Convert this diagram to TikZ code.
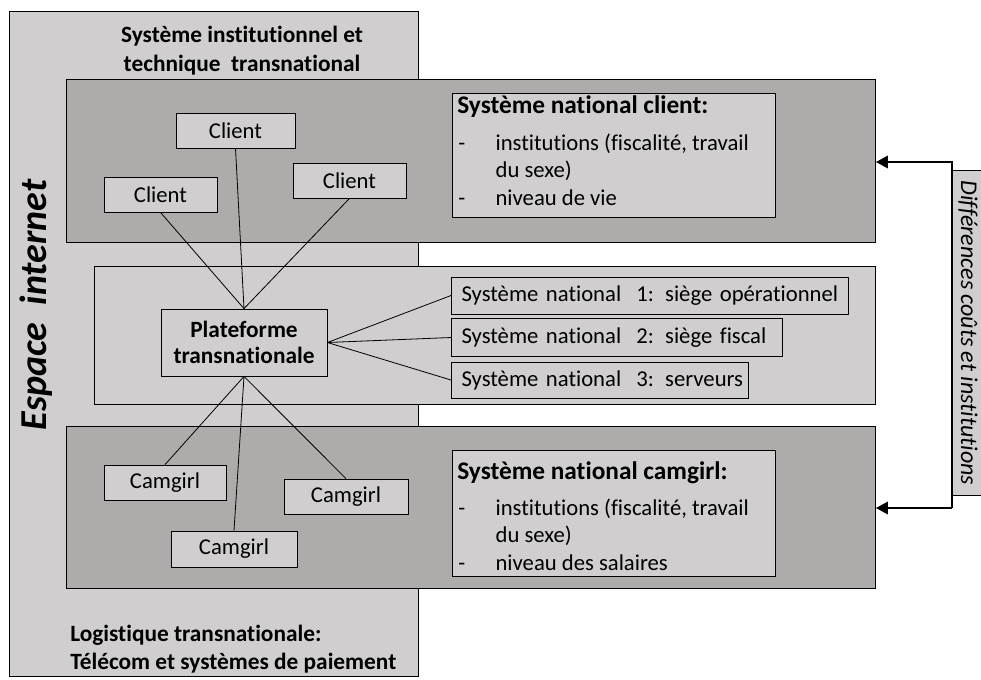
\documentclass[tikz,border=0pt]{standalone}
\usepackage{fontspec}
\setmainfont{Carlito}[Ligatures=NoCommon]
\usetikzlibrary{arrows.meta}
\definecolor{lightg}{HTML}{D0CECE}
\definecolor{darkg}{HTML}{AEABAB}
\newcommand{\dashitem}[1]{\makebox[28pt][l]{-}#1}
\begin{document}
\begin{tikzpicture}[x=0.75pt,y=-0.75pt,
  box/.style={draw=black, line width=0.6pt},
  smallbox/.style={draw=black, line width=0.6pt, fill=lightg, inner sep=0pt},
  lbl/.style={font=\fontsize{17}{20.6}\selectfont},
  link/.style={draw=black, line width=0.6pt}]
\useasboundingbox (0,0) rectangle (981,679);
% outer region
\node[box, fill=lightg, minimum width=409*0.75pt, minimum height=665*0.75pt, anchor=north west, inner sep=0pt] (outer) at (9,11) {};
% top client system
\node[box, fill=darkg, minimum width=809*0.75pt, minimum height=163*0.75pt, anchor=north west, inner sep=0pt] (top) at (66,79) {};
% middle
\node[box, fill=lightg, minimum width=781*0.75pt, minimum height=138*0.75pt, anchor=north west, inner sep=0pt] (mid) at (94,266) {};
% bottom camgirl system
\node[box, fill=darkg, minimum width=809*0.75pt, minimum height=162*0.75pt, anchor=north west, inner sep=0pt] (bot) at (66,426) {};
% titles
\node[font=\bfseries\fontsize{17.5}{21.5}\selectfont, align=center, anchor=base, inner sep=0pt] (ttitle) at (242,71) {Système institutionnel et\\technique~ transnational};
\node[font=\bfseries\fontsize{17.5}{21}\selectfont, align=left, anchor=base west, inner sep=0pt] (btitle) at (70,669) {Logistique transnationale:\\Télécom et systèmes de paiement};
\node[font=\bfseries\itshape\fontsize{28.5}{30}\selectfont, rotate=90] (esp) at (36,305) {Espace~ internet};
% national client box
\node[smallbox, minimum width=323*0.75pt, minimum height=124*0.75pt, anchor=north west] (nclient) at (452,93) {};
\node[font=\bfseries\fontsize{19}{22}\selectfont, anchor=base west, inner sep=0pt] (ncT) at (457,113) {Système national client:};
\node[lbl, anchor=base west, align=left, inner sep=0pt] (ncL) at (458,205) {%
\dashitem{institutions (fiscalité, travail}\\\hspace*{28pt}du sexe)\\\dashitem{niveau de vie}};
% national camgirl box
\node[smallbox, minimum width=323*0.75pt, minimum height=126*0.75pt, anchor=north west] (ncam) at (452,450) {};
\node[font=\bfseries\fontsize{19}{22}\selectfont, anchor=base west, inner sep=0pt] (nmT) at (457,479) {Système national camgirl:};
\node[lbl, anchor=base west, align=left, inner sep=0pt] (nmL) at (458,570) {%
\dashitem{institutions (fiscalité, travail}\\\hspace*{28pt}du sexe)\\\dashitem{niveau des salaires}};
% clients
\node[smallbox, lbl, minimum width=119*0.75pt, minimum height=35*0.75pt] (c1) at (235.5,130.5) {Client};
\node[smallbox, lbl, minimum width=113*0.75pt, minimum height=35*0.75pt] (c2) at (160.5,194.5) {Client};
\node[smallbox, lbl, minimum width=113*0.75pt, minimum height=35*0.75pt] (c3) at (349.5,180.5) {Client};
% platform
\node[smallbox, minimum width=166*0.75pt, minimum height=67*0.75pt, font=\bfseries\fontsize{17.5}{20}\selectfont, align=center] (plat) at (244,342.5) {Plateforme\\transnationale};
% national systems
\node[smallbox, lbl, minimum width=397*0.75pt, minimum height=37*0.75pt, anchor=west, text width=390*0.75pt, align=left] (s1) at (451,295.5) {\hspace*{5pt}Système national~ 1: siège opérationnel};
\node[smallbox, lbl, minimum width=331*0.75pt, minimum height=38*0.75pt, anchor=west, text width=324*0.75pt, align=left] (s2) at (451,337.5) {\hspace*{5pt}Système national~ 2: siège fiscal};
\node[smallbox, lbl, minimum width=297*0.75pt, minimum height=36*0.75pt, anchor=west, text width=290*0.75pt, align=left] (s3) at (451,380) {\hspace*{5pt}Système national~ 3: serveurs};
% camgirls
\node[smallbox, lbl, minimum width=122*0.75pt, minimum height=35*0.75pt] (g1) at (165,482.5) {Camgirl};
\node[smallbox, lbl, minimum width=124*0.75pt, minimum height=35*0.75pt] (g2) at (346,496.5) {Camgirl};
\node[smallbox, lbl, minimum width=126*0.75pt, minimum height=36*0.75pt] (g3) at (234,549) {Camgirl};
% links
\draw[link] (plat.north) -- (c1.south);
\draw[link] (plat.north) -- (c2.south);
\draw[link] (plat.north) -- (c3.south);
\draw[link] (plat.east) -- (s1.west);
\draw[link] (plat.east) -- (s2.west);
\draw[link] (plat.east) -- (s3.west);
\draw[link] (plat.south) -- (g1.north);
\draw[link] (plat.south) -- (g2.north);
\draw[link] (plat.south) -- (g3.north);
% differences
\node[smallbox, minimum width=33*0.75pt, minimum height=325*0.75pt, anchor=north west] (diff) at (951,170) {};
\node[font=\itshape\fontsize{18}{20}\selectfont, rotate=-90] (diffT) at (diff.center) {Différences coûts et institutions};
\coordinate (ua) at (952,162);
\coordinate (la) at (952,508);
\draw[line width=2.2pt, -{Triangle[length=9pt,width=9pt]}] (la) -- (ua) -- (top.east |- ua);
\draw[line width=2.2pt, -{Triangle[length=9pt,width=9pt]}] (la) -- (bot.east |- la);
\end{tikzpicture}
\end{document}
